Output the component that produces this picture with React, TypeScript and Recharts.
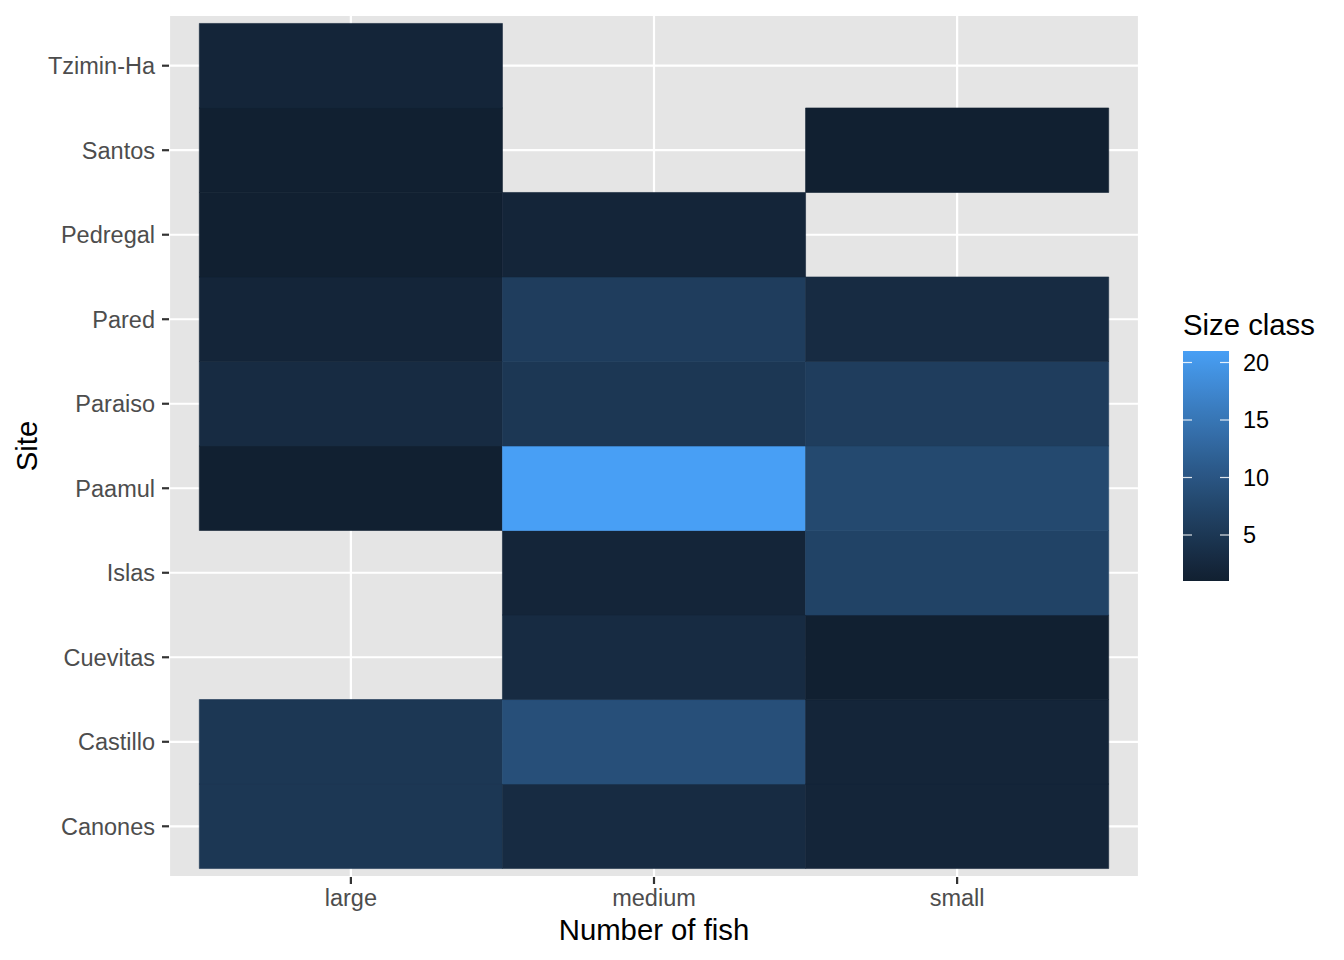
import React from 'react';
import {
  ComposedChart,
  Scatter,
  XAxis,
  YAxis,
  CartesianGrid,
  ReferenceArea,
} from 'recharts';

// ---- Data ----
const sizeClasses = ['large', 'medium', 'small'];
const sites = ['Canones', 'Castillo', 'Cuevitas', 'Islas', 'Paamul', 'Paraiso', 'Pared', 'Pedregal', 'Santos', 'Tzimin-Ha'];
const largeCounts = [5, 5, null, null, 1, 3, 2, 1, 1, 2];
const mediumCounts = [3, 9, 3, 2, 21, 5, 6, 2, null, null];
const smallCounts = [2, 2, 1, 7, 8, 6, 3, null, 1, null];
const legendTicks = [5, 10, 15, 20];

const seriesBySize = [largeCounts, mediumCounts, smallCounts];

type Cell = { x: number; y: number; value: number };
const cells: Cell[] = [];
seriesBySize.forEach((arr, i) => {
  arr.forEach((v, j) => {
    if (v !== null && v !== undefined) cells.push({ x: i + 1, y: j + 1, value: v as number });
  });
});
const allValues = cells.map((c) => c.value);
const vMin = Math.min(...allValues);
const vMax = Math.max(...allValues);

// ---- Colour scale (Lab interpolation like ggplot2) ----
const LOW = '#112031';
const HIGH = '#489FF5';

function hexToRgb(h: string) {
  const n = parseInt(h.slice(1), 16);
  return [(n >> 16) & 255, (n >> 8) & 255, n & 255];
}
function toLin(c: number) {
  c /= 255;
  return c <= 0.04045 ? c / 12.92 : Math.pow((c + 0.055) / 1.055, 2.4);
}
function fromLin(c: number) {
  const v = c <= 0.0031308 ? 12.92 * c : 1.055 * Math.pow(c, 1 / 2.4) - 0.055;
  return Math.max(0, Math.min(255, Math.round(v * 255)));
}
const Xn = 0.95047, Yn = 1, Zn = 1.08883;
function f(t: number) {
  return t > 0.008856 ? Math.cbrt(t) : 7.787 * t + 16 / 116;
}
function finv(t: number) {
  const t3 = t * t * t;
  return t3 > 0.008856 ? t3 : (t - 16 / 116) / 7.787;
}
function hexToLab(h: string) {
  const [r0, g0, b0] = hexToRgb(h);
  const r = toLin(r0), g = toLin(g0), b = toLin(b0);
  const X = (0.4124 * r + 0.3576 * g + 0.1805 * b) / Xn;
  const Y = (0.2126 * r + 0.7152 * g + 0.0722 * b) / Yn;
  const Z = (0.0193 * r + 0.1192 * g + 0.9505 * b) / Zn;
  const fx = f(X), fy = f(Y), fz = f(Z);
  return [116 * fy - 16, 500 * (fx - fy), 200 * (fy - fz)];
}
function labToHex(L: number, a: number, bb: number) {
  const fy = (L + 16) / 116;
  const fx = fy + a / 500;
  const fz = fy - bb / 200;
  const X = finv(fx) * Xn, Y = finv(fy) * Yn, Z = finv(fz) * Zn;
  const r = 3.2406 * X - 1.5372 * Y - 0.4986 * Z;
  const g = -0.9689 * X + 1.8758 * Y + 0.0415 * Z;
  const b = 0.0557 * X - 0.204 * Y + 1.057 * Z;
  const hx = (v: number) => fromLin(v).toString(16).padStart(2, '0');
  return '#' + hx(r) + hx(g) + hx(b);
}
const labLow = hexToLab(LOW);
const labHigh = hexToLab(HIGH);
function colorAt(t: number) {
  return labToHex(
    labLow[0] + (labHigh[0] - labLow[0]) * t,
    labLow[1] + (labHigh[1] - labLow[1]) * t,
    labLow[2] + (labHigh[2] - labLow[2]) * t,
  );
}
function colorFor(v: number) {
  return colorAt((v - vMin) / (vMax - vMin));
}

const FONT = '"Liberation Sans", Arial, Helvetica, sans-serif';

// ---- Layout ----
const W = 1344;
const H = 960;
const PLOT_LEFT = 169;
const PLOT_TOP = 15;
const PLOT_RIGHT = 1139;
const PLOT_BOTTOM = 877;

function Legend() {
  const barX = 13;
  const barY = 51;
  const barW = 46;
  const barH = 230;
  const stops = Array.from({ length: 21 }, (_, i) => i / 20);
  const yOf = (v: number) => barY + barH - ((v - vMin) / (vMax - vMin)) * barH;
  return (
    <svg width={174} height={300} style={{ position: 'absolute', left: 1170, top: 300 }}>
      <defs>
        <linearGradient id="sizeGrad" x1="0" y1="1" x2="0" y2="0">
          {stops.map((s) => (
            <stop key={s} offset={s} stopColor={colorAt(s)} />
          ))}
        </linearGradient>
      </defs>
      <text x={13} y={35} fontSize={29.3} fontFamily={FONT} fill="#000">
        Size class
      </text>
      <rect x={barX} y={barY} width={barW} height={barH} fill="url(#sizeGrad)" />
      {legendTicks.map((t) => (
        <g key={t}>
          <line x1={barX} x2={barX + 9} y1={yOf(t)} y2={yOf(t)} stroke="#fff" strokeOpacity={0.85} strokeWidth={1.2} />
          <line x1={barX + barW - 9} x2={barX + barW} y1={yOf(t)} y2={yOf(t)} stroke="#fff" strokeOpacity={0.85} strokeWidth={1.2} />
          <text x={barX + barW + 14} y={yOf(t)} dy="0.36em" fontSize={23.5} fontFamily={FONT} fill="#000">
            {t}
          </text>
        </g>
      ))}
    </svg>
  );
}

export default function App() {
  const yTicks = sites.map((_, i) => i + 1);
  const xTicks = sizeClasses.map((_, i) => i + 1);
  return (
    <div style={{ position: 'absolute', left: 0, top: 0, width: W, height: H, background: '#fff' }}>
      <ComposedChart
        width={W}
        height={H}
        margin={{ top: PLOT_TOP, right: W - PLOT_RIGHT, bottom: 0, left: 0 }}
      >
        <CartesianGrid fill="#E5E5E5" fillOpacity={1} stroke="#FFFFFF" strokeWidth={2.2} />
        <XAxis
          type="number"
          dataKey="x"
          domain={[0.4, sizeClasses.length + 0.6]}
          ticks={xTicks}
          tickFormatter={(v: number) => sizeClasses[v - 1]}
          height={H - PLOT_BOTTOM}
          axisLine={false}
          tickLine={{ stroke: '#333333', strokeWidth: 2.2 }}
          tickSize={7}
          tickMargin={5}
          tick={{ fill: '#4D4D4D', fontSize: 23.5, fontFamily: FONT }}
          allowDataOverflow
          label={{
            content: (props: any) => {
              const vb = props.viewBox || {};
              return (
                <text x={vb.x + vb.width / 2} y={940} textAnchor="middle" fontSize={29.3} fontFamily={FONT} fill="#000">
                  Number of fish
                </text>
              );
            },
          }}
        />
        <YAxis
          type="number"
          dataKey="y"
          domain={[0.4, sites.length + 0.6]}
          ticks={yTicks}
          tickFormatter={(v: number) => sites[v - 1]}
          width={PLOT_LEFT}
          axisLine={false}
          tickLine={{ stroke: '#333333', strokeWidth: 2.2 }}
          tickSize={7}
          tickMargin={7}
          tick={{ fill: '#4D4D4D', fontSize: 23.5, fontFamily: FONT }}
          allowDataOverflow
          label={{
            content: () => (
              <text
                x={37}
                y={(PLOT_TOP + PLOT_BOTTOM) / 2}
                transform={`rotate(-90 37 ${(PLOT_TOP + PLOT_BOTTOM) / 2})`}
                textAnchor="middle"
                fontSize={29.3}
                fontFamily={FONT}
                fill="#000"
              >
                Site
              </text>
            ),
          }}
        />
        {cells.map((c) => (
          <ReferenceArea
            key={`${c.x}-${c.y}`}
            x1={c.x - 0.5}
            x2={c.x + 0.5}
            y1={c.y - 0.5}
            y2={c.y + 0.5}
            fill={colorFor(c.value)}
            fillOpacity={1}
            stroke={colorFor(c.value)}
            strokeWidth={0.6}
            ifOverflow="visible"
          />
        ))}
        <Scatter data={cells} isAnimationActive={false} shape={() => <g />} legendType="none" />
      </ComposedChart>
      <Legend />
    </div>
  );
}
